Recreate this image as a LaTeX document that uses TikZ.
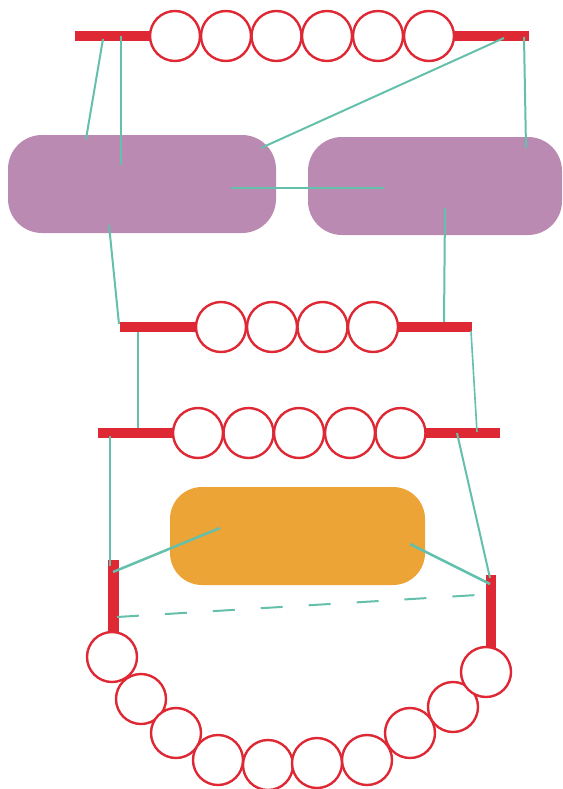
\documentclass[tikz,border=0pt]{standalone}
\definecolor{redc}{RGB}{222,40,52}
\definecolor{tealc}{RGB}{100,192,170}
\definecolor{purp}{RGB}{186,138,178}
\definecolor{orng}{RGB}{236,164,54}
\begin{document}
\begin{tikzpicture}[x=1pt,y=-1pt,
  bead/.style={circle,draw=redc,line width=2.4pt,fill=white,minimum size=50pt,inner sep=0pt},
  barbox/.style={rectangle,fill=redc,inner sep=0pt},
  pbox/.style={rectangle,fill=purp,rounded corners=34pt,inner sep=0pt},
  obox/.style={rectangle,fill=orng,rounded corners=32pt,inner sep=0pt},
  link/.style={draw=tealc,line width=2pt},
  thinlink/.style={draw=tealc,line width=1.6pt}]
\useasboundingbox (0,0) rectangle (562,789);

% purple boxes
\node[pbox,minimum width=268pt,minimum height=98pt] (p1) at (142,184) {};
\node[pbox,minimum width=254pt,minimum height=98pt] (p2) at (435,186) {};
% orange box
\node[obox,minimum width=255pt,minimum height=98pt] (o1) at (297.5,536) {};

% connector end points
\coordinate (a1) at (103,39);  \coordinate (a2) at (121,36);
\coordinate (a3) at (504,38);  \coordinate (a4) at (524,37);
\coordinate (b1) at (86,139);  \coordinate (b2) at (121,165);
\coordinate (b3) at (261,148); \coordinate (b4) at (526,148);
\coordinate (m1) at (231,188); \coordinate (m2) at (384,188);
\coordinate (c1) at (109,225); \coordinate (c2) at (445,208);
\coordinate (d1) at (119,324); \coordinate (d2) at (444,322);
\coordinate (e1) at (138,332); \coordinate (e2) at (471,331);
\coordinate (f1) at (138,428); \coordinate (f2) at (477,432);
\coordinate (g1) at (110,436); \coordinate (g2) at (457,433);
\coordinate (h1) at (110,566); \coordinate (h2) at (490,578);
\coordinate (k1) at (220,528); \coordinate (k2) at (113,572);
\coordinate (k3) at (410,544); \coordinate (k4) at (490,584);
\coordinate (q1) at (117,617); \coordinate (q2) at (477,595);

% top row
\node[barbox,minimum width=454pt,minimum height=10pt] (bar1) at (302,36) {};
\foreach \i/\x in {1/175,2/226,3/276.5,4/327,5/378,6/429}
  \node[bead] (r1c\i) at (\x,36) {};
% second row
\node[barbox,minimum width=352pt,minimum height=10pt] (bar2) at (296,327) {};
\foreach \i/\x in {1/221,2/272,3/322.5,4/373}
  \node[bead] (r2c\i) at (\x,327) {};
% third row
\node[barbox,minimum width=402pt,minimum height=10pt] (bar3) at (299,433) {};
\foreach \i/\x in {1/198,2/248.5,3/299,4/350,5/400.5}
  \node[bead] (r3c\i) at (\x,433) {};

% bottom loop
\node[barbox,minimum width=11pt,minimum height=76pt] (vl) at (113.5,598) {};
\node[barbox,minimum width=10pt,minimum height=74pt] (vr) at (491,612) {};
\foreach \i/\x/\y in {1/112/657,2/141/699,3/176/733,4/218/760,5/268/765,6/317/763,7/367/760,8/410/733,9/453/707,10/486/672}
  \node[bead] (lp\i) at (\x,\y) {};

% connectors
\draw[link] (a1) -- (b1);
\draw[link] (a2) -- (b2);
\draw[link] (a3) -- (b3);
\draw[link] (a4) -- (b4);
\draw[link] (m1) -- (m2);
\draw[link] (c1) -- (d1);
\draw[link] (c2) -- (d2);
\draw[thinlink] (e1) -- (f1);
\draw[thinlink] (e2) -- (f2);
\draw[thinlink] (g1) -- (h1);
\draw[link] (g2) -- (h2);
\draw[link,line width=2.5pt] (k1) -- (k2);
\draw[link,line width=2.5pt] (k3) -- (k4);
\draw[link,dash pattern=on 22pt off 26pt] (q1) -- (q2);
\end{tikzpicture}
\end{document}
